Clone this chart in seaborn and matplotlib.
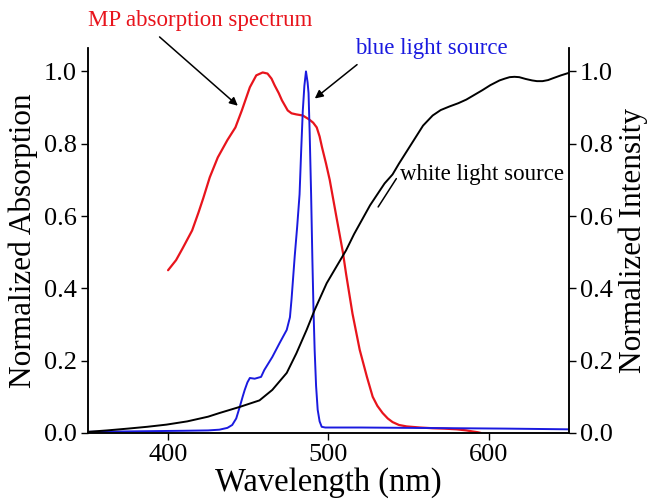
import numpy as np
import pandas as pd
import seaborn as sns
import matplotlib.pyplot as plt

# MP absorption spectrum (red, left axis)
mp_wl = [400, 405, 409, 415, 419, 422, 426, 431, 437, 442, 446, 451, 455, 459, 462, 464.5,
         466.5, 469, 471, 474.6, 477, 480, 484, 488, 490.5, 492.7, 494.5, 496, 498.5, 500.8,
         505, 509, 511, 515, 519.5, 524, 527.6, 530.5, 533.8, 537, 540, 544, 548.8, 557,
         565, 572, 580, 586, 590, 593, 595]
mp_abs = [0.45, 0.478, 0.51, 0.56, 0.61, 0.65, 0.707, 0.762, 0.81, 0.845, 0.892, 0.956,
          0.989, 0.997, 0.994, 0.98, 0.961, 0.94, 0.92, 0.892, 0.884, 0.881, 0.878, 0.867,
          0.858, 0.845, 0.82, 0.79, 0.745, 0.70, 0.597, 0.50, 0.44, 0.33, 0.23, 0.155, 0.10,
          0.075, 0.055, 0.04, 0.03, 0.022, 0.018, 0.015, 0.013, 0.012, 0.01, 0.007, 0.004,
          0.002, 0.0]

# blue light source (blue, left axis)
blue_wl = [350, 370, 390, 410, 425, 432, 437, 440, 442.5, 444.7, 446.5, 447.8, 449.5, 451,
           454, 458, 460, 465, 469.6, 474, 476, 477, 478, 479, 480.5, 482, 483, 484, 485,
           486, 487, 487.6, 488.3, 489.2, 490, 490.7, 491.4, 492.3, 493.3, 494.5, 495.8,
           498, 520, 550, 580, 610, 650]
blue_int = [0.003, 0.004, 0.005, 0.006, 0.007, 0.009, 0.014, 0.022, 0.04, 0.072, 0.1, 0.119,
            0.14, 0.152, 0.15, 0.155, 0.174, 0.21, 0.249, 0.285, 0.32, 0.37, 0.43, 0.49,
            0.57, 0.66, 0.78, 0.89, 0.96, 1.0, 0.97, 0.94, 0.83, 0.66, 0.478, 0.34, 0.23,
            0.13, 0.064, 0.032, 0.017, 0.015, 0.015, 0.014, 0.013, 0.012, 0.01]

# white light source (black, right axis)
white_wl = [350, 362, 375, 387, 399, 412, 425, 432, 444.7, 457, 465, 474, 480, 486.4, 491.4,
            498.9, 505, 511, 516, 521, 526, 530.5, 535, 540, 544, 549, 554, 559, 565, 570,
            575.5, 581, 586, 591, 596, 601, 606.7, 610, 613, 616, 619, 623, 627, 630, 633.5,
            637, 640, 645, 650]
white_int = [0.003, 0.007, 0.012, 0.017, 0.023, 0.032, 0.045, 0.055, 0.072, 0.09, 0.119,
             0.166, 0.22, 0.285, 0.34, 0.414, 0.46, 0.505, 0.55, 0.59, 0.63, 0.66, 0.69, 0.715,
             0.745, 0.78, 0.815, 0.85, 0.878, 0.893, 0.903, 0.912, 0.922, 0.935, 0.948, 0.962,
             0.975, 0.98, 0.984, 0.985, 0.984, 0.979, 0.975, 0.973, 0.973, 0.976, 0.981, 0.989,
             0.996]

sns.set_style("ticks")
plt.rcParams['font.family'] = ['Liberation Serif', 'DejaVu Serif']
plt.rcParams['xtick.direction'] = 'out'
plt.rcParams['ytick.direction'] = 'out'
plt.rcParams['axes.labelcolor'] = 'black'
plt.rcParams['text.color'] = 'black'

fig = plt.figure(figsize=(6.51, 5.04), dpi=100)
ax = fig.add_axes([0.135, 0.141, 0.739, 0.764])

sns.lineplot(x=mp_wl, y=mp_abs, ax=ax, color='#e8141c', linewidth=1.6)
sns.lineplot(x=blue_wl, y=blue_int, ax=ax, color='#1a1adf', linewidth=1.4)

ax2 = ax.twinx()
sns.lineplot(x=white_wl, y=white_int, ax=ax2, color='black', linewidth=1.4)

for a in (ax, ax2):
    a.set_xlim(350, 650)
    a.set_ylim(0, 1.065)
    a.set_yticks([0.0, 0.2, 0.4, 0.6, 0.8, 1.0])
    a.set_yticklabels(['0.0', '0.2', '0.4', '0.6', '0.8', '1.0'])
    a.tick_params(labelsize=19, length=5, width=1, pad=3, colors='black')
    a.spines['top'].set_visible(False)
    for s in ('left', 'right', 'bottom'):
        a.spines[s].set_visible(True)
        a.spines[s].set_linewidth(1.1)
        a.spines[s].set_color('black')

ax.set_xticks([400, 500, 600])
ax.set_xlabel('Wavelength (nm)', fontsize=23.5, labelpad=1, color='black')
ax.set_ylabel('Normalized Absorption', fontsize=22.5, labelpad=4, color='black')
ax2.set_ylabel('Normalized Intensity', fontsize=22.5, labelpad=4, color='black')

ax.annotate('MP absorption spectrum', xy=(443.5, 0.905), xytext=(419.8, 1.141),
            color='#e8141c', fontsize=16.5, ha='center', va='center',
            annotation_clip=False,
            arrowprops=dict(arrowstyle='-|>', color='black', lw=1.1, relpos=(0.29, 0.0),
                            shrinkA=3, shrinkB=0, mutation_scale=12))
ax.annotate('blue light source', xy=(491.5, 0.925), xytext=(564.3, 1.064),
            color='#1a1adf', fontsize=16.5, ha='center', va='center',
            annotation_clip=False,
            arrowprops=dict(arrowstyle='-|>', color='black', lw=1.1, relpos=(0.06, 0.0),
                            shrinkA=3, shrinkB=0, mutation_scale=12))
ax.annotate('white light source', xy=(531, 0.625), xytext=(596, 0.715),
            color='black', fontsize=16.5, ha='center', va='center',
            annotation_clip=False,
            arrowprops=dict(arrowstyle='-', color='black', lw=1.1,
                            relpos=(0.0, 0.6), shrinkA=1, shrinkB=0))

fig.savefig('out.png', dpi=100)
